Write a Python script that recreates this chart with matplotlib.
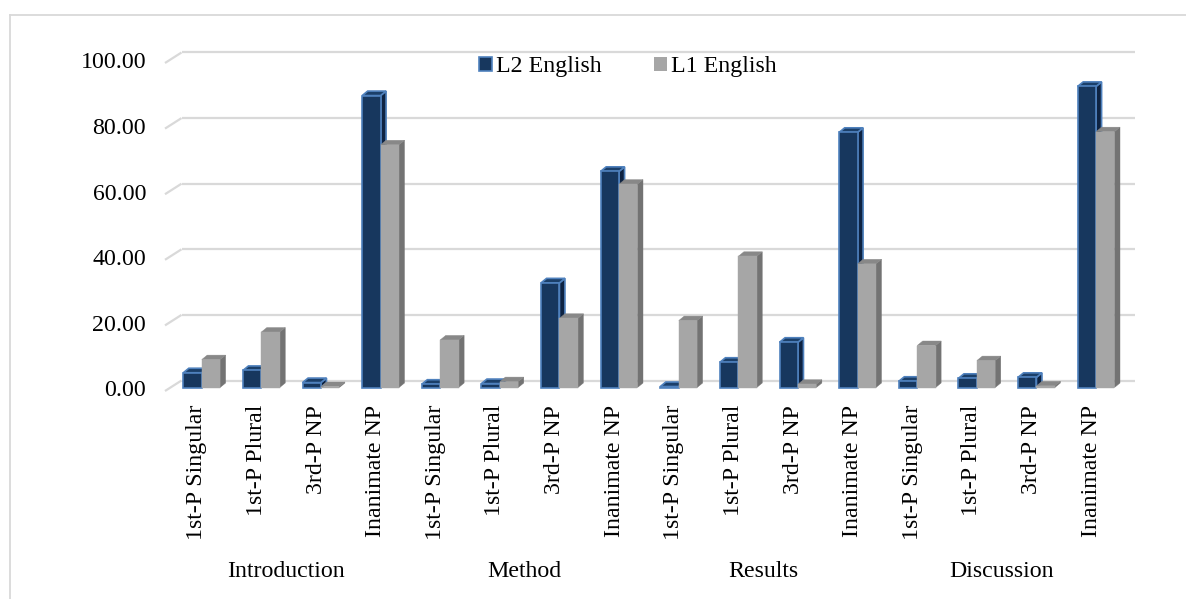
import matplotlib
matplotlib.use('Agg')
import matplotlib.pyplot as plt
from matplotlib.patches import Polygon, Patch
from matplotlib.lines import Line2D

# ---------------- data ----------------
sections = ['Introduction', 'Method', 'Results', 'Discussion']
subcats = ['1st-P Singular', '1st-P Plural', '3rd-P NP', 'Inanimate NP']
series_names = ['L2 English', 'L1 English']
l2_values = [4.5, 5.2, 1.5, 89.0,
             1.0, 1.2, 31.9, 65.9,
             0.3, 7.7, 13.8, 77.8,
             1.9, 2.8, 3.1, 91.8]
l1_values = [8.5, 16.9, 0.3, 74.0,
             14.5, 1.8, 21.1, 62.0,
             20.4, 40.0, 1.0, 37.7,
             12.8, 8.2, 0.5, 78.0]
yticks = [0, 20, 40, 60, 80, 100]

# ---------------- style ----------------
plt.rcParams['font.family'] = ['Liberation Serif', 'DejaVu Serif']
FS = 17.2
GRID = '#d9d9d9'
L2_FRONT, L2_TOP, L2_SIDE, L2_EDGE = '#17375e', '#1b3f69', '#0e2342', '#4f81bd'
L1_FRONT, L1_TOP, L1_SIDE = '#a6a6a6', '#888888', '#737373'

W, H = 1186, 599
fig = plt.figure(figsize=(W / 100, H / 100), dpi=100)
fig.patch.set_facecolor('white')

ax_left, ax_right = 165, 1119      # front floor extent (px)
ax_base, ax_top = 387.5, 59.5      # px of value 0 and value 100 for bars
ax = fig.add_axes([ax_left / W, 1 - ax_base / H,
                   (ax_right - ax_left) / W, (ax_base - ax_top) / H])
labels = [c for s in sections for c in subcats]
n = len(labels)
ax.set_xlim(-0.5, n - 0.5)
ax.set_ylim(0, 100)
ax.axis('off')

pxx = (ax_right - ax_left) / n
pxy = (ax_base - ax_top) / 100


def dx(p):
    return p / pxx


def dy(p):
    return p / pxy


# ---------------- grid (3D floor/back wall) ----------------
back_up = dy(7.0)
front_down = dy(3.5)
depth_x = dx(16.5)
for v in yticks:
    yb = v + back_up
    yf = v - front_down
    ax.plot([-0.5 + depth_x, n - 0.5 + dx(16)], [yb, yb], color=GRID, lw=1.6,
            clip_on=False, zorder=1, solid_capstyle='butt')
    ax.plot([-0.5, -0.5 + depth_x], [yf, yb], color=GRID, lw=1.6,
            clip_on=False, zorder=1, solid_capstyle='butt')
    ax.text(-0.5 - dx(19), yf, f'{v:.2f}', ha='right', va='center',
            fontsize=FS, color='black')

# ---------------- bars ----------------
bw = dx(18.4)
shift = dx(6.9)
ddx, ddy = dx(5.5), dy(4.5)


def draw_bar(x0, v, front, top, side, edge, lw, z):
    x1 = x0 + bw
    side_poly = [(x1, 0), (x1 + ddx, ddy), (x1 + ddx, v + ddy), (x1, v)]
    top_poly = [(x0, v), (x1, v), (x1 + ddx, v + ddy), (x0 + ddx, v + ddy)]
    front_poly = [(x0, 0), (x1, 0), (x1, v), (x0, v)]
    for k, (poly, fc) in enumerate([(side_poly, side), (top_poly, top),
                                     (front_poly, front)]):
        ax.add_patch(Polygon(poly, closed=True, facecolor=fc,
                             edgecolor=edge if edge else fc,
                             lw=lw if edge else 0.3, joinstyle='miter',
                             clip_on=False, zorder=z + k * 0.01))


for i in range(n):
    xc = i + shift
    draw_bar(xc - bw, l2_values[i], L2_FRONT, L2_TOP, L2_SIDE, L2_EDGE, 1.2, 2 + i * 0.1)
    draw_bar(xc, l1_values[i], L1_FRONT, L1_TOP, L1_SIDE, None, 0, 2.05 + i * 0.1)

# ---------------- category labels ----------------
for i, lab in enumerate(labels):
    ax.text(i + dx(2), -dy(405 - ax_base), lab, rotation=90, ha='center',
            va='top', fontsize=FS, color='black')
for k, s in enumerate(sections):
    ax.text(4 * k + 1.5 + dx(2), -dy(571.7 - ax_base), s, ha='center',
            va='center', fontsize=FS, color='black')

# ---------------- legend ----------------
handles = [Patch(facecolor=L2_FRONT, edgecolor=L2_EDGE, lw=1.2),
           Patch(facecolor=L1_FRONT, edgecolor='none')]
fig.legend(handles, series_names, loc='center',
           bbox_to_anchor=(628 / W, 1 - 66.7 / H), ncol=2, frameon=False,
           fontsize=FS, handlelength=0.55, handleheight=0.55,
           handletextpad=0.17, columnspacing=2.2, borderpad=0,
           borderaxespad=0)

# ---------------- chart border ----------------
fig.add_artist(Line2D([9.5 / W, 1], [1 - 14.5 / H, 1 - 14.5 / H],
                      transform=fig.transFigure, color=GRID, lw=1.3))
fig.add_artist(Line2D([9.5 / W, 9.5 / W], [1 - 14.5 / H, 0],
                      transform=fig.transFigure, color=GRID, lw=1.3))

fig.savefig('out.png', dpi=100)
